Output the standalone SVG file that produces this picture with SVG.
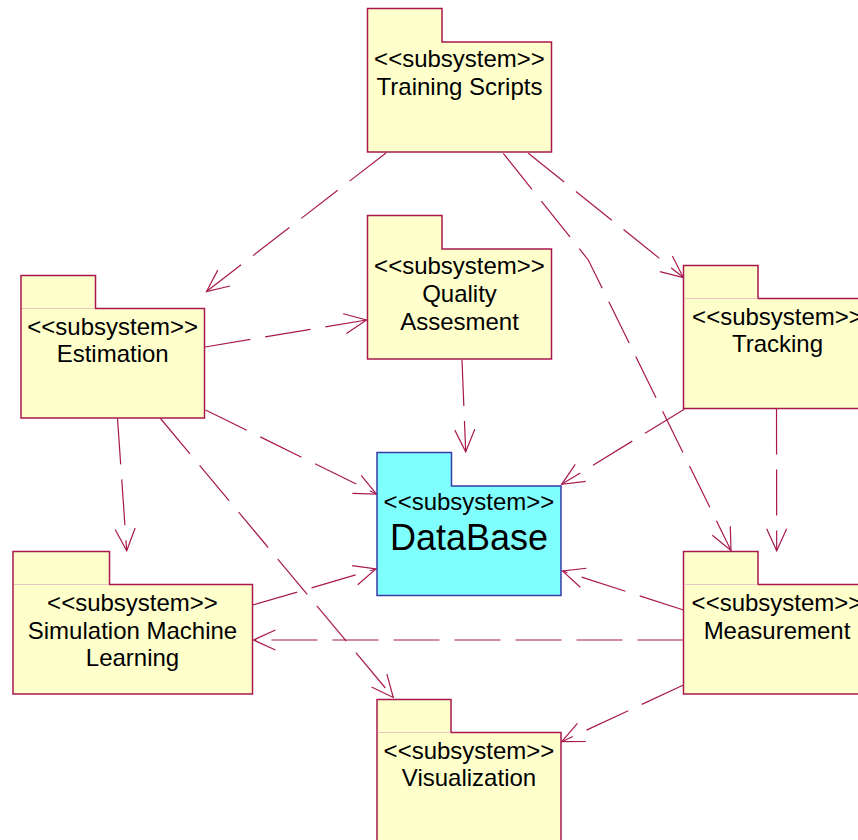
<svg xmlns="http://www.w3.org/2000/svg" width="858" height="840" viewBox="0 0 858 840">
  <style>
    .pkg { fill: #FFFFCC; stroke: #A8184E; stroke-width: 1.5; }
    .db { fill: #80FFFF; stroke: #3A3AAA; stroke-width: 1.5; }
    .sep { stroke: #EBC4C4; stroke-width: 1; fill: none; }
    .lbl { font-family: "Liberation Sans", Arial, sans-serif; font-size: 24px; fill: #000; text-anchor: middle; }
    .big { font-size: 36px; }
    .dep { fill: none; stroke: #A8184E; stroke-width: 1.2; stroke-dasharray: 46 15; marker-end: url(#open); }
  </style>
  <defs>
    <marker id="open" markerUnits="userSpaceOnUse" orient="auto" refX="0" refY="0" viewBox="-26 -13 28 26" markerWidth="28" markerHeight="26" overflow="visible">
      <path d="M-22,-10 L0,0 L-22,10" fill="none" stroke="#A8184E" stroke-width="1.2" stroke-dasharray="none"/>
    </marker>
  </defs>

  <rect width="858" height="840" fill="#FFFFFF"/>

  <!-- dependency connectors -->
  <g id="connectors">
    <path class="dep" d="M386,153 L206.5,291.5"/>
    <path class="dep" d="M205,347 L366.5,320"/>
    <path class="dep" d="M528.3,153.3 L683.3,277.5"/>
    <path class="dep" d="M503.3,153.3 L588.3,260 L731,550.5"/>
    <path class="dep" d="M462,360 L465.7,451.7"/>
    <path class="dep" d="M205.5,410 L376.5,494"/>
    <path class="dep" d="M684.3,409.3 L561.7,484.3"/>
    <path class="dep" d="M776.5,408.5 L776.7,550.7"/>
    <path class="dep" d="M683.5,610 L562.5,571"/>
    <path class="dep" d="M683.5,640 L253.5,640"/>
    <path class="dep" d="M683.5,685 L561.7,741.7"/>
    <path class="dep" d="M253,605 L376,569"/>
    <path class="dep" d="M117.5,418.5 L126.7,550.7"/>
    <path class="dep" d="M160.5,418.5 L393.3,697.5"/>
  </g>

  <!-- subsystem packages -->
  <g id="training-scripts">
    <path class="pkg" d="M367.5,42 V8.5 H442 V42 H551.5 V152 H367.5 Z"/>
    <text class="lbl" x="459.5" y="67">&lt;&lt;subsystem&gt;&gt;</text>
    <text class="lbl" x="459.5" y="94.5">Training Scripts</text>
  </g>

  <g id="quality-assesment">
    <path class="pkg" d="M367.5,249 V215.5 H442 V249 H551.5 V359 H367.5 Z"/>
    <text class="lbl" x="459.5" y="274">&lt;&lt;subsystem&gt;&gt;</text>
    <text class="lbl" x="459.5" y="302">Quality</text>
    <text class="lbl" x="459.5" y="330">Assesment</text>
  </g>

  <g id="estimation">
    <path class="pkg" d="M21,308.5 V275.5 H95.5 V308.5 H204.5 V418 H21 Z"/>
    <line class="sep" x1="22" y1="308.5" x2="95" y2="308.5"/>
    <text class="lbl" x="112.7" y="335">&lt;&lt;subsystem&gt;&gt;</text>
    <text class="lbl" x="112.7" y="362">Estimation</text>
  </g>

  <g id="tracking">
    <path class="pkg" d="M683.5,298.5 V265.5 H758 V298.5 H870 V408.5 H683.5 Z"/>
    <line class="sep" x1="684.5" y1="298.5" x2="757.5" y2="298.5"/>
    <text class="lbl" x="777.5" y="325">&lt;&lt;subsystem&gt;&gt;</text>
    <text class="lbl" x="777.5" y="352">Tracking</text>
  </g>

  <g id="database">
    <path class="db" d="M377,486 V452.5 H451.5 V486 H561 V595.5 H377 Z"/>
    <text class="lbl" x="469" y="510">&lt;&lt;subsystem&gt;&gt;</text>
    <text class="lbl big" x="469" y="550">DataBase</text>
  </g>

  <g id="simulation-machine-learning">
    <path class="pkg" d="M13,584.5 V551.5 H109.5 V584.5 H252.5 V694 H13 Z"/>
    <line class="sep" x1="14" y1="584.5" x2="109" y2="584.5"/>
    <text class="lbl" x="132.5" y="611">&lt;&lt;subsystem&gt;&gt;</text>
    <text class="lbl" x="132.5" y="639">Simulation Machine</text>
    <text class="lbl" x="132.5" y="666">Learning</text>
  </g>

  <g id="measurement">
    <path class="pkg" d="M683.5,584.5 V551.5 H758 V584.5 H870 V694 H683.5 Z"/>
    <line class="sep" x1="684.5" y1="584.5" x2="757.5" y2="584.5"/>
    <text class="lbl" x="777" y="611">&lt;&lt;subsystem&gt;&gt;</text>
    <text class="lbl" x="777" y="639">Measurement</text>
  </g>

  <g id="visualization">
    <path class="pkg" d="M377,732.5 V699.5 H451 V732.5 H561 V850 H377 Z"/>
    <line class="sep" x1="378" y1="732.5" x2="450.5" y2="732.5"/>
    <text class="lbl" x="469" y="758.5">&lt;&lt;subsystem&gt;&gt;</text>
    <text class="lbl" x="469" y="786">Visualization</text>
  </g>
</svg>
